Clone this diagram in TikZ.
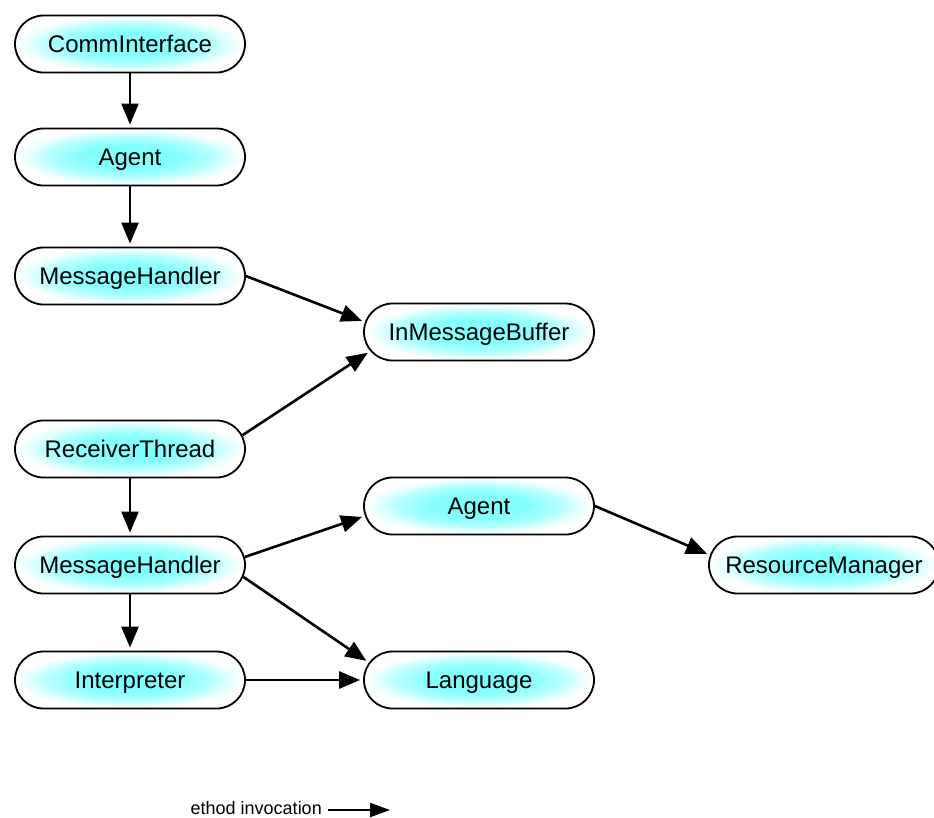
\documentclass[tikz,border=0pt]{standalone}
\usepackage{fontspec}
\setmainfont{Liberation Sans}
\usetikzlibrary{shapes.misc,arrows.meta}

% soft cyan glow that fades to white towards the border of each box
\pgfdeclareradialshading{cyanglow}{\pgfpoint{0bp}{0bp}}{%
  color(0bp)=(cyan!52); color(11bp)=(cyan!47); color(18bp)=(cyan!28);
  color(22bp)=(cyan!10); color(25bp)=(white); color(50bp)=(white)}

\tikzset{
  classbox/.style={rounded rectangle, draw=black, line width=1.8pt,
    minimum width=230pt, minimum height=57pt, inner sep=0pt,
    text height=17.5pt, text depth=0pt,
    shading=cyanglow, font=\fontsize{24}{28}\selectfont},
  call/.style={line width=2.6pt, shorten >=3pt,
    -{Triangle[length=21pt,width=17pt]}},
}

\begin{document}
\begin{tikzpicture}[x=1pt,y=-1pt]
  \useasboundingbox (0,0) rectangle (934,817);
  \clip (0,0) rectangle (934,817);

  % classes
  \node[classbox] (ci)    at (130,44)  {CommInterface};
  \node[classbox] (ag1)   at (130,157) {Agent};
  \node[classbox] (mh1)   at (130,276) {MessageHandler};
  \node[classbox] (imb)   at (479,332) {InMessageBuffer};
  \node[classbox] (rt)    at (130,449) {ReceiverThread};
  \node[classbox] (mh2)   at (130,565) {MessageHandler};
  \node[classbox] (ag2)   at (479,506) {Agent};
  \node[classbox] (rm)    at (824,565) {ResourceManager};
  \node[classbox] (interp) at (130,680) {Interpreter};
  \node[classbox] (lang)  at (479,680) {Language};

  % method calls
  \draw[call] (ci.south)  -- (ag1.north);
  \draw[call] (ag1.south) -- (mh1.north);
  \draw[call] (mh1.east)  -- (imb.175);
  \draw[call] (rt.7)      -- (imb.190);
  \draw[call] (rt.south)  -- (mh2.north);
  \draw[call] (mh2.4)     -- (ag2.185);
  \draw[call] (mh2.354)   -- (lang.171);
  \draw[call] (mh2.south) -- (interp.north);
  \draw[call] (interp.east) -- (lang.west);
  \draw[call] (ag2.east)  -- (rm.175);

  % legend
  \node[anchor=east, inner sep=0pt, font=\fontsize{18}{21}\selectfont]
    (legend) at (322,808) {ethod invocation};
  \coordinate (legendstart) at (328,810);
  \coordinate (legendend) at (390,810);
  \draw[line width=2.2pt, -{Triangle[length=20pt,width=14pt]}]
    (legendstart) -- (legendend);
\end{tikzpicture}
\end{document}
